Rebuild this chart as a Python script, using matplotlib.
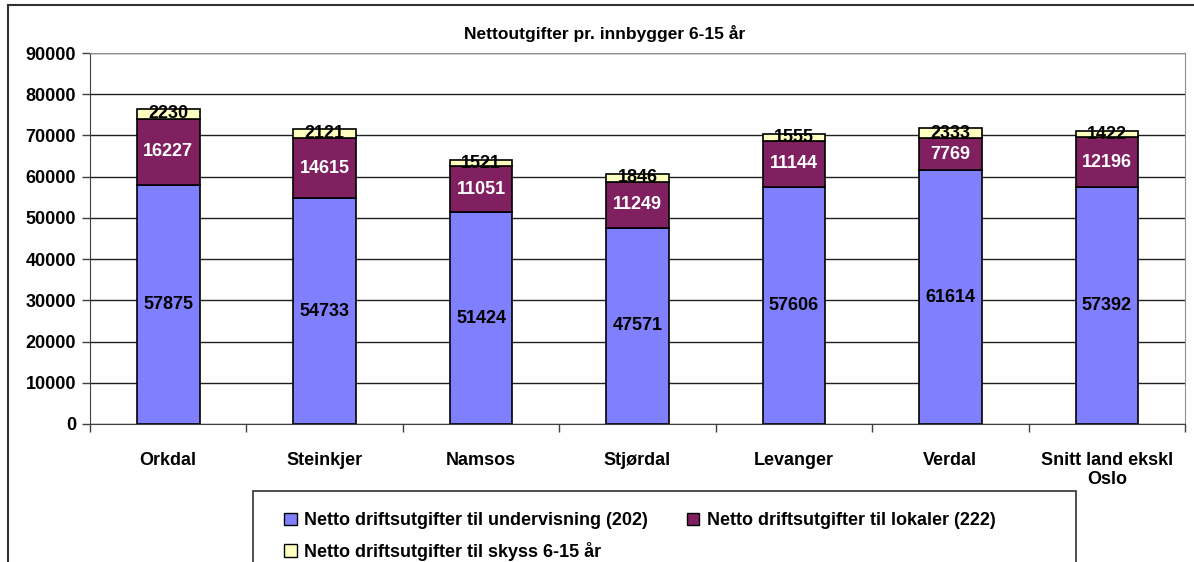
import numpy as np
import matplotlib
matplotlib.use('Agg')
from matplotlib import pyplot as plt
from matplotlib.patches import Rectangle, Patch
from matplotlib.lines import Line2D

categories = ['Orkdal', 'Steinkjer', 'Namsos', 'Stjørdal', 'Levanger', 'Verdal', 'Snitt land ekskl\nOslo']
undervisning = [57875, 54733, 51424, 47571, 57606, 61614, 57392]
lokaler = [16227, 14615, 11051, 11249, 11144, 7769, 12196]
skyss = [2230, 2121, 1521, 1846, 1555, 2333, 1422]
series_names = ['Netto driftsutgifter til undervisning (202)',
                'Netto driftsutgifter til lokaler (222)',
                'Netto driftsutgifter til skyss 6-15 år']
colors = ['#8080FF', '#802060', '#FFFFC0']

plt.rcParams['font.family'] = ['Liberation Sans', 'DejaVu Sans']
plt.rcParams['font.weight'] = 'bold'

W, H = 1194, 562
fig = plt.figure(figsize=(W/100, H/100), dpi=100)

# outer chart frame (partly cut off)
fig.add_artist(Line2D([8/W, 8/W], [0, 1-5/H], color='#303030', lw=1.5, transform=fig.transFigure))
fig.add_artist(Line2D([8/W, 1], [1-5/H, 1-5/H], color='#303030', lw=1.5, transform=fig.transFigure))

ax = fig.add_axes([90/W, 1-424/H, (1185-90)/W, (424-53)/H])
x = np.arange(len(categories))
w = 0.40
bottoms = np.zeros(len(categories))
for vals, c in zip([undervisning, lokaler, skyss], colors):
    ax.bar(x, vals, w, bottom=bottoms, color=c, edgecolor='black', linewidth=1.2, zorder=3)
    bottoms = bottoms + np.array(vals)

for i in range(len(categories)):
    b0 = undervisning[i]
    b1 = b0 + lokaler[i]
    ax.text(x[i], b0/2, str(undervisning[i]), ha='center', va='center', fontsize=13, fontweight='bold', color='black', zorder=4)
    ax.text(x[i], b0 + lokaler[i]/2, str(lokaler[i]), ha='center', va='center', fontsize=13, fontweight='bold', color='white', zorder=4)
    ax.text(x[i], b1 + skyss[i]/2, str(skyss[i]), ha='center', va='center', fontsize=13, fontweight='bold', color='black', zorder=4)

ax.set_xlim(-0.5, len(categories)-0.5)
ax.set_ylim(0, 90000)
ax.set_yticks(np.arange(0, 90001, 10000))
ax.yaxis.grid(True, color='#202020', lw=1, zorder=0)
ax.set_axisbelow(True)
ax.tick_params(axis='y', labelsize=13, length=6, width=1, color='#404040', pad=4)
ax.set_xticks(x)
ax.set_xticklabels(categories, fontsize=13, fontweight='bold')
ax.tick_params(axis='x', length=0, pad=20)
for lab in ax.get_yticklabels():
    lab.set_fontweight('bold')
ax.set_xticks(np.arange(-0.5, len(categories)), minor=True)
ax.tick_params(axis='x', which='minor', length=6, width=1, color='#404040', direction='out')
ax.spines['top'].set_color('#909090')
ax.spines['right'].set_color('#909090')
ax.spines['left'].set_color('#404040')
ax.spines['bottom'].set_color('#404040')

fig.text(605/W, 1-33/H, 'Nettoutgifter pr. innbygger 6-15 år', ha='center', va='center', fontsize=12.5, fontweight='bold')

# legend box
fig.add_artist(Rectangle((253/W, -0.05), (1076-253)/W, 0.05+1-491/H, transform=fig.transFigure,
                         facecolor='white', edgecolor='#303030', lw=1.2))
handles = [Patch(facecolor=c, edgecolor='black', lw=1) for c in colors]
order = [0, 2, 1]
fig.legend([handles[k] for k in order], [series_names[k] for k in order], ncol=2, loc='upper left',
           bbox_to_anchor=(268/W, 1-496/H), frameon=False, handlelength=0.7, handleheight=0.7,
           handletextpad=0.4, columnspacing=2.15, labelspacing=0.7, prop={'weight': 'bold', 'size': 13})

fig.savefig('out.png', dpi=100)
